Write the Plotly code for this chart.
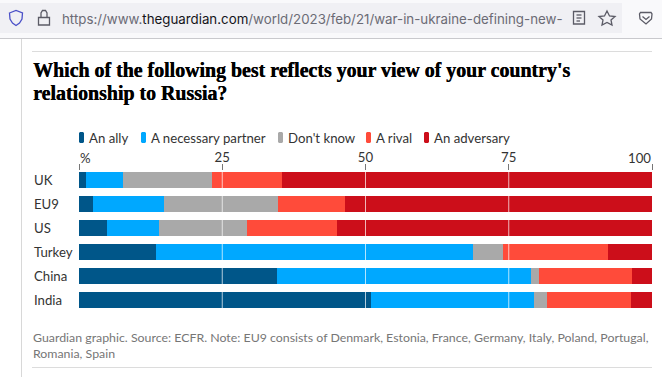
import plotly.graph_objects as go

categories = ["UK", "EU9", "US", "Turkey", "China", "India"]
series_names = ["An ally", "A necessary partner", "Don't know", "A rival", "An adversary"]
ally = [1.2, 2.4, 4.9, 13.4, 34.6, 51.0]
partner = [6.5, 12.4, 9.1, 55.4, 44.3, 28.4]
dont_know = [15.5, 19.9, 15.3, 5.2, 1.4, 2.3]
rival = [12.2, 11.7, 15.7, 18.3, 16.2, 14.6]
adversary = [64.6, 53.6, 55.0, 7.7, 3.5, 3.7]
series_values = [ally, partner, dont_know, rival, adversary]
series_colors = ["#005689", "#00a8ff", "#a9a9a9", "#ff4b3a", "#cc0e1a"]
tick_vals = [0, 25, 50, 75, 100]
tick_text = ["", "25", "50", "75", ""]

TITLE_1 = "Which of the following best reflects your view of your country's"
TITLE_2 = "relationship to Russia?"
NOTE = "Guardian graphic. Source: ECFR. Note: EU9 consists of Denmark, Estonia, France, Germany, Italy, Poland, Portugal,<br>Romania, Spain"
URL = ('<span style="color:#6b6b75">https://www.</span><span style="color:#15141a">theguardian.com</span>'
       '<span style="color:#6b6b75">/world/2023/feb/21/war-in-ukraine-defining-new-</span>')

W, H = 662, 377
SANS = "Lato"
LABEL_SIZE = 13.2
def px(x): return x / W
def py(y): return 1 - y / H

fig = go.Figure()
for name, vals, col in zip(series_names, series_values, series_colors):
    fig.add_trace(go.Bar(y=categories, x=vals, name=name, orientation="h",
                         marker=dict(color=col, line=dict(width=0)), showlegend=False))

shapes, ann = [], []
def rect(x0, y0, x1, y1, fill, layer="below"):
    shapes.append(dict(type="rect", xref="paper", yref="paper", x0=px(x0), x1=px(x1), y0=py(y0), y1=py(y1),
                       fillcolor=fill, line=dict(width=0), layer=layer))
def text(x, y, s, size, color, anchor="left", family=SANS, yanchor="middle", **fontkw):
    ann.append(dict(xref="paper", yref="paper", x=px(x), y=py(y), text=s, showarrow=False,
                    xanchor=anchor, yanchor=yanchor, align="left",
                    font=dict(size=size, color=color, family=family, **fontkw), borderpad=0, borderwidth=0))

# browser bar
rect(0, 0, 662, 38, "#f9f9fb")
rect(0, 3, 622, 33, "#f0f0f4")
rect(0, 38, 662, 39, "#c9c9cd")
rect(21, 39, 22, 377, "#d8d8d8")
rect(32, 51, 652, 52, "#dcdcdc")
rect(32, 367, 652, 368, "#dcdcdc")
text(62, 18.5, URL, 13.3, "#5b5b66", family="Inter")
def icon(path, color, fill="rgba(0,0,0,0)"):
    shapes.append(dict(type="path", xref="paper", yref="paper", path=path, line=dict(color=color, width=1.3), fillcolor=fill))
def pth(pts, close=True):
    return "M " + " L ".join(f"{px(x):.5f},{py(y):.5f}" for x, y in pts) + (" Z" if close else "")
icon(pth([(9.5, 13), (16, 10.5), (22.5, 13), (22, 19), (19.5, 23), (16, 25.5), (12.5, 23), (10, 19)]), "#4a50c8")
icon(pth([(38.5, 17.5), (49.5, 17.5), (49.5, 25), (38.5, 25)]), "#5b5b66")
icon(pth([(41, 17.5), (41, 13), (42.5, 10.5), (45.5, 10.5), (47, 13), (47, 17.5)], False), "#5b5b66")
icon(pth([(573.5, 11.5), (584.5, 11.5), (584.5, 24), (573.5, 24)]), "#5b5b66")
icon(pth([(576.5, 15), (581.5, 15)], False), "#5b5b66")
icon(pth([(576.5, 18), (581.5, 18)], False), "#5b5b66")
icon(pth([(576.5, 21), (580, 21)], False), "#5b5b66")
icon(pth([(607, 11), (609.5, 16), (615, 16.5), (611, 20), (612, 25), (607, 22.5), (602, 25), (603, 20), (599, 16.5), (604.5, 16)]), "#5b5b66")
icon(pth([(640.5, 12.5), (651, 12.5), (652, 14), (651.5, 19), (646, 24), (640, 19), (639.5, 14)]), "#5b5b66")
icon(pth([(642.5, 16.5), (646, 19.5), (649.5, 16.5)], False), "#5b5b66")

text(33, 71, "<b>" + TITLE_1 + "</b>", 19.9, "#000000", family="Liberation Serif", shadow="0.4px 0 0 #000")
text(33, 93, "<b>" + TITLE_2 + "</b>", 19.9, "#000000", family="Liberation Serif", shadow="0.4px 0 0 #000")

# legend
legend_x = [79, 141, 278, 366, 424]
for name, col, x in zip(series_names, series_colors, legend_x):
    shapes.append(dict(type="path", xref="paper", yref="paper",
                       path=pth([(x + 1, 132), (x + 4, 132), (x + 5, 133), (x + 5, 142), (x + 4, 143), (x + 1, 143), (x, 142), (x, 133)]),
                       fillcolor=col, line=dict(width=0)))
    text(x + 10, 138, name, LABEL_SIZE, "#333333")

# axis end labels
for v, s, anc in [(0, "%", "left"), (100, "100", "right")]:
    ann.append(dict(xref="x", yref="paper", x=v, y=py(158), text=s, showarrow=False, xanchor=anc, yanchor="middle", borderpad=0,
                    font=dict(size=LABEL_SIZE, color="#333333", family=SANS)))
for c in categories:
    ann.append(dict(xref="paper", yref="y", x=px(33), y=c, text=c, showarrow=False, xanchor="left", yanchor="middle", borderpad=0,
                    font=dict(size=LABEL_SIZE, color="#333333", family=SANS)))
text(33, 330, NOTE, 12.35, "#767676", yanchor="top")

for t in tick_vals[1:-1]:
    shapes.append(dict(type="line", xref="x", yref="paper", x0=t, x1=t, y0=py(172), y1=py(308),
                       line=dict(color="rgba(255,255,255,0.7)", width=1), layer="above"))

fig.update_layout(
    width=W, height=H, margin=dict(l=0, r=0, t=0, b=0, pad=0), barmode="stack", bargap=1/3,
    paper_bgcolor="white", plot_bgcolor="rgba(0,0,0,0)", shapes=shapes, annotations=ann,
    font=dict(family=SANS, size=LABEL_SIZE, color="#333333"),
    xaxis=dict(side="top", domain=[px(79), px(652)], range=[0, 100], tickmode="array", tickvals=tick_vals, ticktext=tick_text,
               ticks="outside", ticklen=6, tickcolor="#767676", tickwidth=1, showgrid=False, zeroline=False,
               showline=False, ticklabelstandoff=-3, tickfont=dict(size=LABEL_SIZE, color="#333333", family=SANS)),
    yaxis=dict(domain=[py(312), py(171)], range=[5.5, -0.375], showticklabels=False, ticks="", showgrid=False, zeroline=False, showline=False,
               type="category", categoryorder="array", categoryarray=categories),
)
fig.write_html("out.html", post_script="document.body.style.margin='0';document.body.style.overflow='hidden';",
               config={"displayModeBar": False})
